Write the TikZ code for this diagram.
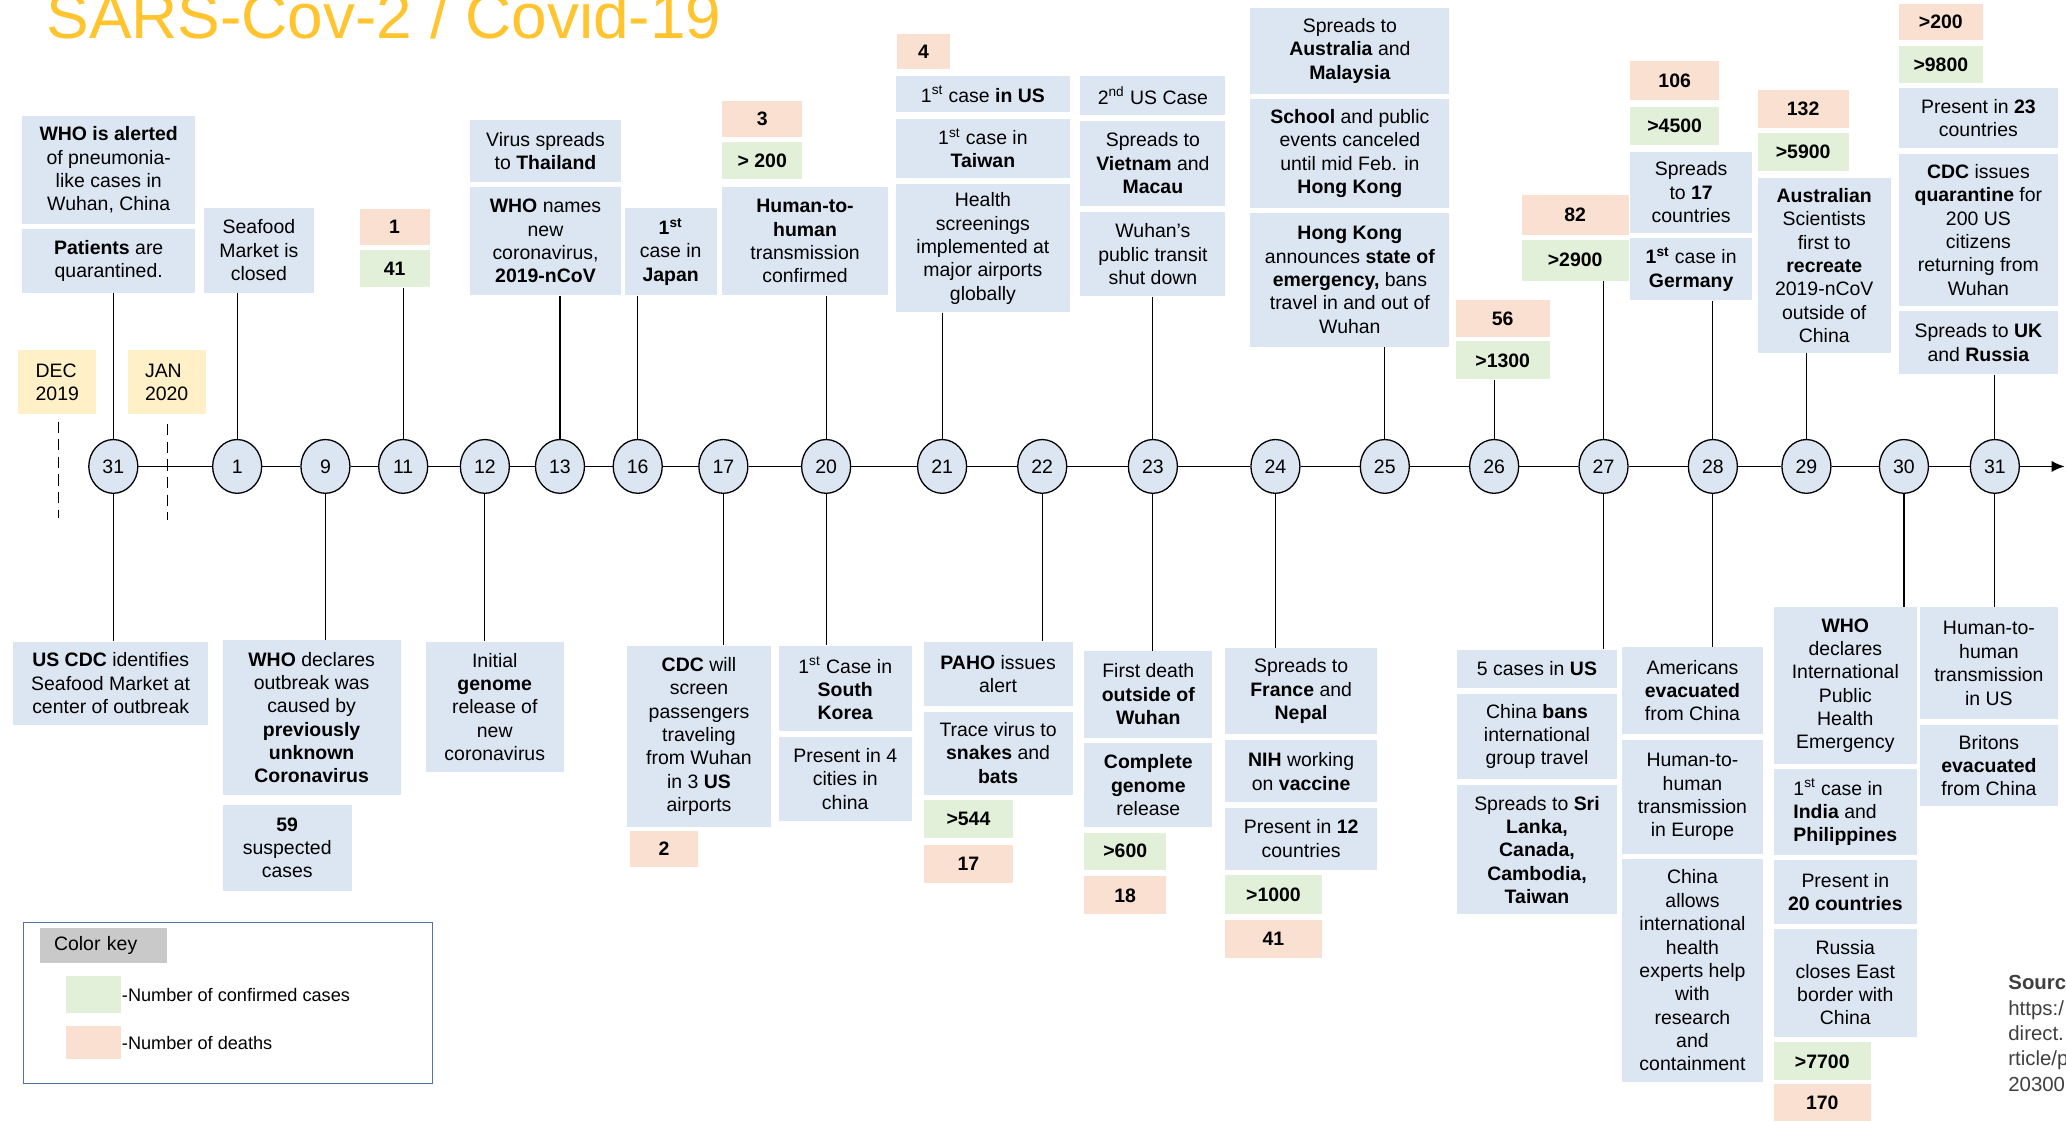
\documentclass[tikz,border=0pt]{standalone}
\usepackage{fontspec}
\setmainfont{Liberation Sans}
\usetikzlibrary{shapes.geometric,arrows.meta}

\definecolor{boxblue}{RGB}{220,230,242}
\definecolor{casegreen}{RGB}{226,239,217}
\definecolor{deathpeach}{RGB}{250,224,208}
\definecolor{monthyellow}{RGB}{255,240,200}
\definecolor{keygrey}{RGB}{201,201,201}
\definecolor{keyframe}{RGB}{84,114,164}
\definecolor{titleyellow}{RGB}{255,196,46}
\definecolor{srcgrey}{RGB}{64,64,64}

\begin{document}
\begin{tikzpicture}
  [
  x=0.025cm,y=-0.025cm,
  every node/.style={font=\fontsize{10.5}{12.6}\selectfont},
  sz/.style 2 args={minimum width=#1*0.025cm,minimum height=#2*0.025cm},
  event/.style={rectangle,fill=boxblue,inner sep=1pt,align=center},
  cases/.style={rectangle,fill=casegreen,inner sep=1pt,font=\fontsize{10.5}{12.6}\selectfont\bfseries},
  deaths/.style={rectangle,fill=deathpeach,inner sep=1pt,font=\fontsize{10.5}{12.6}\selectfont\bfseries},
  month/.style={rectangle,fill=monthyellow,inner sep=1pt,align=left},
  day/.style={ellipse,draw,fill=boxblue,line width=0.7pt,minimum width=0.93cm,minimum height=1.02cm,inner sep=0pt},
  stem/.style={line width=0.6pt}
  ]
  \path [use as bounding box,fill=white] (0,0) rectangle (1568,852);

  \node (title) at (35,29) [anchor=base west,inner sep=0pt,text=titleyellow,font=\fontsize{34.5}{40}\selectfont] {SARS-Cov-2 / Covid-19};

  % months
  \node (dec) at (43.5,290) [month,sz={59}{48}] {DEC\\2019};
  \node (jan) at (126.5,290) [month,sz={59}{48}] {JAN\\2020};
  \coordinate (dectop) at (44,320);
  \coordinate (decbot) at (44,393);
  \coordinate (jantop) at (127,322);
  \coordinate (janbot) at (127,395);
  \draw [dash pattern=on 6pt off 3.5pt] (dectop) -- (decbot);
  \draw [dash pattern=on 6pt off 3.5pt] (jantop) -- (janbot);

  % days
  \node (d31) at (86,354) [day] {31};
  \foreach \d/\x in {1/180,9/247,11/306,12/368,13/425,16/484,17/549,20/627,21/715,22/791,23/875,24/968,25/1051,26/1134,27/1217,28/1300,29/1371,30/1445,31/1514}
    \node (j\d) at (\x,354) [day] {\d};
  \foreach \a/\b in {d31/j1,j1/j9,j9/j11,j11/j12,j12/j13,j13/j16,j16/j17,j17/j20,j20/j21,j21/j22,j22/j23,j23/j24,j24/j25,j25/j26,j26/j27,j27/j28,j28/j29,j29/j30,j30/j31}
    \draw [line width=0.9pt] (\a) -- (\b);
  \coordinate (tip) at (1567,354);
  \draw [line width=0.9pt,-{Latex[length=7pt,width=6pt]}] (j31) -- (tip);

  % above the line
  \node (alert) at (82.5,129) [event,sz={131}{82}] {\textbf{WHO is alerted}\\of pneumonia-\\like cases in\\Wuhan, China};
  \node (quar) at (82.5,198) [event,sz={131}{48}] {\textbf{Patients} are\\quarantined.};
  \node (seaf) at (196.5,190) [event,sz={83}{64}] {Seafood\\Market is\\closed};
  \node (n11d) at (299.5,172.5) [deaths,sz={53}{27}] {1};
  \node (n11c) at (299.5,204) [cases,sz={53}{28}] {41};
  \node (thai) at (414,114.5) [event,sz={114}{47}] {Virus spreads\\to \textbf{Thailand}};
  \node (names) at (414,183) [event,sz={114}{82}] {\textbf{WHO} names\\new\\coronavirus,\\\textbf{2019-nCoV}};
  \node (japan) at (509,191) [event,sz={70}{66}] {\textbf{1\textsuperscript{st}}\\case in\\\textbf{Japan}};
  \node (n20d) at (578.5,90.5) [deaths,sz={61}{27}] {3};
  \node (n20c) at (578.5,122) [cases,sz={61}{28}] {> 200};
  \node (h2h) at (611,183) [event,sz={126}{82}] {\textbf{Human-to-}\\\textbf{human}\\transmission\\confirmed};
  \node (n21d) at (701,39) [deaths,sz={40}{26}] {4};
  \node (us1) at (746,71.5) [event,sz={132}{27}] {1\textsuperscript{st} case \textbf{in US}};
  \node (taiwan) at (746,112.5) [event,sz={132}{45}] {1\textsuperscript{st} case in\\\textbf{Taiwan}};
  \node (airport) at (746,188.5) [event,sz={132}{97}] {Health\\screenings\\implemented at\\major airports\\globally};
  \node (us2) at (875,72.5) [event,sz={110}{29}] {2\textsuperscript{nd} US Case};
  \node (vietnam) at (875,124) [event,sz={110}{64}] {Spreads to\\\textbf{Vietnam} and\\\textbf{Macau}};
  \node (transit) at (875,193) [event,sz={110}{64}] {Wuhan's\\public transit\\shut down};
  \node (austr) at (1024.5,38.5) [event,sz={151}{65}] {Spreads to\\\textbf{Australia} and\\\textbf{Malaysia}};
  \node (school) at (1024.5,116.5) [event,sz={151}{83}] {\textbf{School} and public\\events canceled\\until mid Feb. in\\\textbf{Hong Kong}};
  \node (hk) at (1024.5,212.5) [event,sz={151}{101}] {\textbf{Hong Kong}\\announces \textbf{state of}\\\textbf{emergency,} bans\\travel in and out of\\Wuhan};
  \node (n26d) at (1140.5,242) [deaths,sz={71}{28}] {56};
  \node (n26c) at (1140.5,273.5) [cases,sz={71}{29}] {>1300};
  \node (n27d) at (1195.5,163) [deaths,sz={81}{30}] {82};
  \node (n27c) at (1195.5,197.5) [cases,sz={81}{31}] {>2900};
  \node (n28d) at (1271,61) [deaths,sz={68}{30}] {106};
  \node (n28c) at (1271,95.5) [cases,sz={68}{29}] {>4500};
  \node (spr17) at (1283.5,146) [event,sz={93}{62}] {Spreads\\to \textbf{17}\\countries};
  \node (germany) at (1283.5,204.5) [event,sz={93}{47}] {\textbf{1\textsuperscript{st}} case in\\\textbf{Germany}};
  \node (n29d) at (1368.5,82.5) [deaths,sz={69}{29}] {132};
  \node (n29c) at (1368.5,115.5) [cases,sz={69}{29}] {>5900};
  \node (recreate) at (1384.5,201.5) [event,sz={101}{133}] {\textbf{Australian}\\Scientists\\first to\\\textbf{recreate}\\2019-nCoV\\outside of\\China};
  \node (n31d) at (1473,16.5) [deaths,sz={64}{27}] {>200};
  \node (n31c) at (1473,49) [cases,sz={64}{28}] {>9800};
  \node (pres23) at (1501.5,89.5) [event,sz={121}{45}] {Present in \textbf{23}\\countries};
  \node (quarus) at (1501.5,174.5) [event,sz={121}{115}] {\textbf{CDC} issues\\\textbf{quarantine} for\\200 US\\citizens\\returning from\\Wuhan};
  \node (ukru) at (1501.5,260) [event,sz={121}{48}] {Spreads to \textbf{UK}\\and \textbf{Russia}};

  % below the line
  \node (uscdc) at (84,518.5) [event,sz={148}{63}] {\textbf{US CDC} identifies\\Seafood Market at\\center of outbreak};
  \node (declare) at (236.5,544.5) [event,sz={135}{117}] {\textbf{WHO} declares\\outbreak was\\caused by\\\textbf{previously}\\\textbf{unknown}\\\textbf{Coronavirus}};
  \node (suspect) at (218,643.5) [event,sz={98}{65}] {\textbf{59}\\suspected\\cases};
  \node (genome) at (375.5,536.5) [event,sz={105}{99}] {Initial\\\textbf{genome}\\release of\\new\\coronavirus};
  \node (screen3) at (530.5,559) [event,sz={109}{138}] {\textbf{CDC} will\\screen\\passengers\\traveling\\from Wuhan\\in 3 \textbf{US}\\airports};
  \node (n17d) at (504,644.5) [deaths,sz={52}{27}] {2};
  \node (korea) at (641.5,522.5) [event,sz={101}{65}] {1\textsuperscript{st} Case in\\\textbf{South}\\\textbf{Korea}};
  \node (cities) at (641.5,591) [event,sz={101}{64}] {Present in 4\\cities in\\china};
  \node (paho) at (757.5,511.5) [event,sz={113}{49}] {\textbf{PAHO} issues\\alert};
  \node (snakes) at (757.5,571.5) [event,sz={113}{63}] {Trace virus to\\\textbf{snakes} and\\\textbf{bats}};
  \node (n22c) at (735,621.5) [cases,sz={68}{29}] {>544};
  \node (n22d) at (735,655.5) [deaths,sz={68}{29}] {17};
  \node (death1) at (871.5,527) [event,sz={97}{66}] {First death\\\textbf{outside of}\\\textbf{Wuhan}};
  \node (complete) at (871.5,596) [event,sz={97}{64}] {\textbf{Complete}\\\textbf{genome}\\release};
  \node (n23c) at (854,646) [cases,sz={62}{28}] {>600};
  \node (n23d) at (854,679.5) [deaths,sz={62}{29}] {18};
  \node (france) at (987.5,524.5) [event,sz={115}{65}] {Spreads to\\\textbf{France} and\\\textbf{Nepal}};
  \node (vaccine) at (987.5,585.5) [event,sz={115}{47}] {\textbf{NIH} working\\on \textbf{vaccine}};
  \node (pres12) at (987.5,636.5) [event,sz={115}{47}] {Present in \textbf{12}\\countries};
  \node (n24c) at (966.5,679) [cases,sz={73}{30}] {>1000};
  \node (n24d) at (966.5,712.5) [deaths,sz={73}{29}] {41};
  \node (us5) at (1166.5,507.5) [event,sz={121}{29}] {5 cases in \textbf{US}};
  \node (bans) at (1166.5,559) [event,sz={121}{64}] {China \textbf{bans}\\international\\group travel};
  \node (srilanka) at (1166.5,645) [event,sz={121}{98}] {Spreads to \textbf{Sri}\\\textbf{Lanka,}\\\textbf{Canada,}\\\textbf{Cambodia,}\\\textbf{Taiwan}};
  \node (evacus) at (1284.5,524) [event,sz={107}{66}] {Americans\\\textbf{evacuated}\\from China};
  \node (europe) at (1284.5,605) [event,sz={107}{86}] {Human-to-\\human\\transmission\\in Europe};
  \node (experts) at (1284.5,736.5) [event,sz={107}{169}] {China\\allows\\international\\health\\experts help\\with\\research\\and\\containment};
  \node (pheic) at (1400.5,520.5) [event,sz={109}{119}] {\textbf{WHO}\\declares\\International\\Public\\Health\\Emergency};
  \node (india) at (1400.5,616.5) [event,sz={109}{65},align=left] {1\textsuperscript{st} case in\\\textbf{India} and\\\textbf{Philippines}};
  \node (pres20) at (1400.5,677) [event,sz={109}{48}] {Present in\\\textbf{20 countries}};
  \node (border) at (1400.5,746) [event,sz={109}{82}] {Russia\\closes East\\border with\\China};
  \node (n30c) at (1383,805.5) [cases,sz={74}{29}] {>7700};
  \node (n30d) at (1383,837) [deaths,sz={74}{28}] {170};
  \node (h2hus) at (1509.5,503.5) [event,sz={105}{85}] {Human-to-\\human\\transmission\\in US};
  \node (britons) at (1509.5,581) [event,sz={105}{62}] {Britons\\\textbf{evacuated}\\from China};

  % stems
  \foreach \b/\d in {quar/d31,seaf/j1,n11c/j11,names/j13,japan/j16,h2h/j20,airport/j21,transit/j23,hk/j25,n26c/j26,n27c/j27,germany/j28,recreate/j29,ukru/j31}
    \draw [stem] (\b.south -| \d) -- (\d.north);
  \foreach \d/\b in {d31/uscdc,j9/declare,j12/genome,j17/screen3,j20/korea,j22/paho,j23/death1,j24/france,j27/us5,j28/evacus,j30/pheic,j31/h2hus}
    \draw [stem] (\d.south) -- (\b.north -| \d);

  % color key
  \node (key) at (173,761) [draw=keyframe,line width=0.6pt,sz={310}{122}] {};
  \node (keyhead) at (78.5,717.5) [fill=keygrey,minimum height=27*0.025cm,text width=75*0.025cm,inner xsep=11*0.025cm,align=left] {Color key};
  \node (keycase) at (71,755) [fill=casegreen,sz={42}{28}] {};
  \node (keycasetxt) at (keycase.east) [anchor=west,inner sep=0pt,font=\fontsize{9.8}{11}\selectfont] {-Number of confirmed cases};
  \node (keydeath) at (71,791.5) [fill=deathpeach,sz={42}{25}] {};
  \node (keydeathtxt) at (keydeath.east) [anchor=west,inner sep=0pt,font=\fontsize{9.8}{11}\selectfont] {-Number of deaths};

  \node (src) at (1524,740) [anchor=north west,align=left,inner sep=0pt,text=srcgrey,font=\fontsize{11}{13.7}\selectfont] {\textbf{Sourc}\\https:/\\direct.\\rticle/p\\20300};
\end{tikzpicture}
\end{document}
